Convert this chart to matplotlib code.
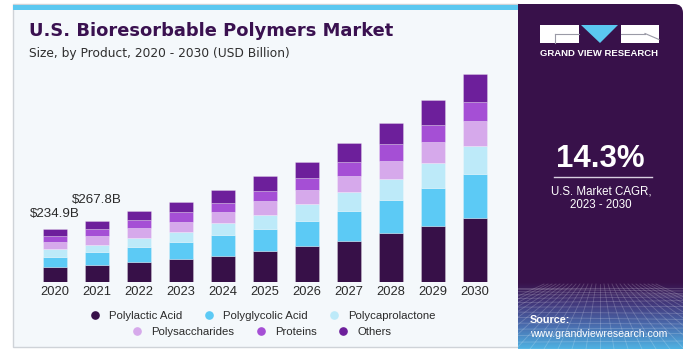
import numpy as np
import matplotlib.pyplot as plt
from matplotlib.patches import Rectangle, FancyBboxPatch, Polygon
from matplotlib.lines import Line2D
from matplotlib.colors import LinearSegmentedColormap

plt.rcParams['font.family'] = ['Liberation Sans', 'DejaVu Sans']

# ---- data (USD Billion) ----
years = [2020, 2021, 2022, 2023, 2024, 2025, 2026, 2027, 2028, 2029, 2030]
segments = ["Polylactic Acid", "Polyglycolic Acid", "Polycaprolactone",
            "Polysaccharides", "Proteins", "Others"]
polylactic_acid = [65.5, 76.0, 89.7, 101.7, 116.2, 135.7, 157.8, 182.5, 216.6, 248.8, 284.2]
polyglycolic_acid = [45.9, 54.4, 65.0, 73.8, 90.2, 97.2, 113.2, 131.3, 147.2, 168.0, 193.2]
polycaprolactone = [35.7, 35.1, 39.8, 44.2, 54.4, 61.9, 72.5, 82.7, 92.8, 109.2, 123.8]
polysaccharides = [31.2, 36.4, 42.9, 46.9, 48.6, 63.2, 63.2, 72.0, 79.6, 91.1, 109.2]
proteins = [23.6, 30.7, 36.7, 42.9, 39.8, 44.2, 53.0, 61.9, 75.1, 76.9, 84.0]
others = [33.0, 35.2, 39.8, 45.5, 58.8, 66.3, 72.0, 85.3, 91.5, 108.7, 126.4]
series = [polylactic_acid, polyglycolic_acid, polycaprolactone,
          polysaccharides, proteins, others]
total_labels = {2020: "$234.9B", 2021: "$267.8B"}
cagr_text = "14.3%"

colors = ["#371048", "#5ccaf5", "#bdeaf9", "#d6a9eb", "#a54fd5", "#6d1f9b"]
title_color = "#3a1150"
panel_color = "#38114a"
page_color = "#f4f8fb"

W, H = 685, 349
fig = plt.figure(figsize=(W / 100, H / 100), dpi=100)
fig.patch.set_facecolor("white")

# pixel-space background layer
bg = fig.add_axes([0, 0, 1, 1], zorder=0)
bg.set_xlim(0, W)
bg.set_ylim(H, 0)
bg.axis("off")

bg.add_patch(Rectangle((13, 4), 506, 343, facecolor=page_color,
                       edgecolor="#cfd3d8", linewidth=1.0))
bg.add_patch(Rectangle((13, 5), 506, 4.5, facecolor="#5bc8f0", edgecolor="none"))

# right information panel
panel = FancyBboxPatch((518, 4), 165, 360, boxstyle="round,pad=0,rounding_size=9",
                       facecolor=panel_color, edgecolor="none")
bg.add_patch(panel)
bg.add_patch(Rectangle((518, 4), 20, 30, facecolor=panel_color, edgecolor="none"))

# gradient with wire grid at bottom of panel
cmap = LinearSegmentedColormap.from_list(
    "fade", [panel_color, "#433a7e", "#4a6fb0", "#4fb2e2"])
grad = np.linspace(0, 1, 100).reshape(-1, 1)
bg.imshow(grad, cmap=cmap, extent=(518, 683, 349, 282), aspect="auto",
          interpolation="bilinear", zorder=1)
clip = Rectangle((518, 282), 165, 67, transform=bg.transData)
for k in range(14):
    y = 288 + 61 * (k / 13) ** 1.5
    ln, = bg.plot([518, 683], [y, y + 2 * np.sin(k)], color="white",
                  alpha=0.2, lw=0.6, zorder=2)
    ln.set_clip_path(clip)
for k in range(-14, 15):
    x0 = 600 + k * 14
    ln, = bg.plot([600 + k * 4, x0], [284, 349], color="white",
                  alpha=0.2, lw=0.6, zorder=2)
    ln.set_clip_path(clip)

# logo
bg.add_patch(Rectangle((540, 25), 39, 18, facecolor="white", edgecolor="none", zorder=3))
bg.add_patch(Rectangle((621, 25), 38, 18, facecolor="white", edgecolor="none", zorder=3))
bg.add_patch(Polygon([(581, 25), (618, 25), (600, 43)], closed=True,
                     facecolor="#5bc8f0", edgecolor="none", zorder=3))
bg.plot([555, 579], [33.5, 33.5], color="#9a9aa6", lw=0.8, zorder=4)
bg.plot([555, 555], [33.5, 43], color="#9a9aa6", lw=0.8, zorder=4)
bg.plot([621, 645], [33.5, 33.5], color="#9a9aa6", lw=0.8, zorder=4)
bg.plot([645, 659], [33.5, 39.5], color="#9a9aa6", lw=0.8, zorder=4)
bg.text(599.5, 53, "GRAND VIEW RESEARCH", color="white", fontsize=6.8,
        fontweight="bold", ha="center", va="center", zorder=4)

# CAGR block
bg.text(600, 159, cagr_text, color="white", fontsize=22.5, fontweight="bold",
        ha="center", va="center", zorder=4)
bg.plot([554, 652], [177, 177], color="#d8d0e0", lw=1.0, zorder=4)
bg.text(601, 191, "U.S. Market CAGR,", color="white", fontsize=8.3,
        ha="center", va="center", zorder=4)
bg.text(601, 205, "2023 - 2030", color="white", fontsize=8.3,
        ha="center", va="center", zorder=4)
bg.text(530, 320, "Source:", color="white", fontsize=7.8, fontweight="bold",
        ha="left", va="center", zorder=4)
bg.text(530, 334, "www.grandviewresearch.com", color="white", fontsize=7.6,
        ha="left", va="center", zorder=4)

# titles
bg.text(29, 31, "U.S. Bioresorbable Polymers Market", color=title_color,
        fontsize=12.9, fontweight="bold", family=["DejaVu Sans"],
        ha="left", va="center")
bg.text(29, 53, "Size, by Product, 2020 - 2030 (USD Billion)", color="#2e2e2e",
        fontsize=8.8, family=["DejaVu Sans"], ha="left", va="center")

# ---- stacked bar chart ----
ax = fig.add_axes([12.7 / W, (H - 282) / H, 504 / W, 222 / H], zorder=2)
ax.set_facecolor("none")
x = np.arange(len(years))
bottom = np.zeros(len(years))
for name, vals, col in zip(segments, series, colors):
    vals = np.asarray(vals)
    ax.bar(x, vals, width=0.57, bottom=bottom, color=col, label=name,
           edgecolor=(1, 1, 1, 0.35), linewidth=0.5)
    bottom = bottom + vals
ax.set_xlim(-1, 11)
ax.set_ylim(0, 222 * 4.42)
ax.set_xticks(x)
ax.set_xticklabels([str(y) for y in years], fontsize=9.3, color="#2a2a2a")
ax.tick_params(axis="x", length=0, pad=3.2)
ax.set_yticks([])
for s in ax.spines.values():
    s.set_visible(False)

offsets = {2020: 15, 2021: 21.5}
for i, yr in enumerate(years):
    if yr in total_labels:
        ax.annotate(total_labels[yr], (i, bottom[i]), xytext=(0, offsets[yr]),
                    textcoords="offset pixels", ha="center", va="center",
                    fontsize=9.6, color="#2a2a2a")

# legend in two centred rows
handles = [Line2D([], [], marker="o", linestyle="none", markersize=5.2,
                  markerfacecolor=c, markeredgecolor=c) for c in colors]
common = dict(frameon=False, ncol=3, fontsize=8.2, handlelength=0.8,
              handletextpad=0.85, columnspacing=1.9, borderpad=0.0,
              labelcolor="#2a2a2a")
leg1 = bg.legend(handles[:3], segments[:3], loc="center",
                 bbox_to_anchor=(263, 316), bbox_transform=bg.transData, **common)
bg.add_artist(leg1)
bg.legend(handles[3:], segments[3:], loc="center",
          bbox_to_anchor=(262, 332), bbox_transform=bg.transData, **common)

fig.savefig("out.png", dpi=100)
